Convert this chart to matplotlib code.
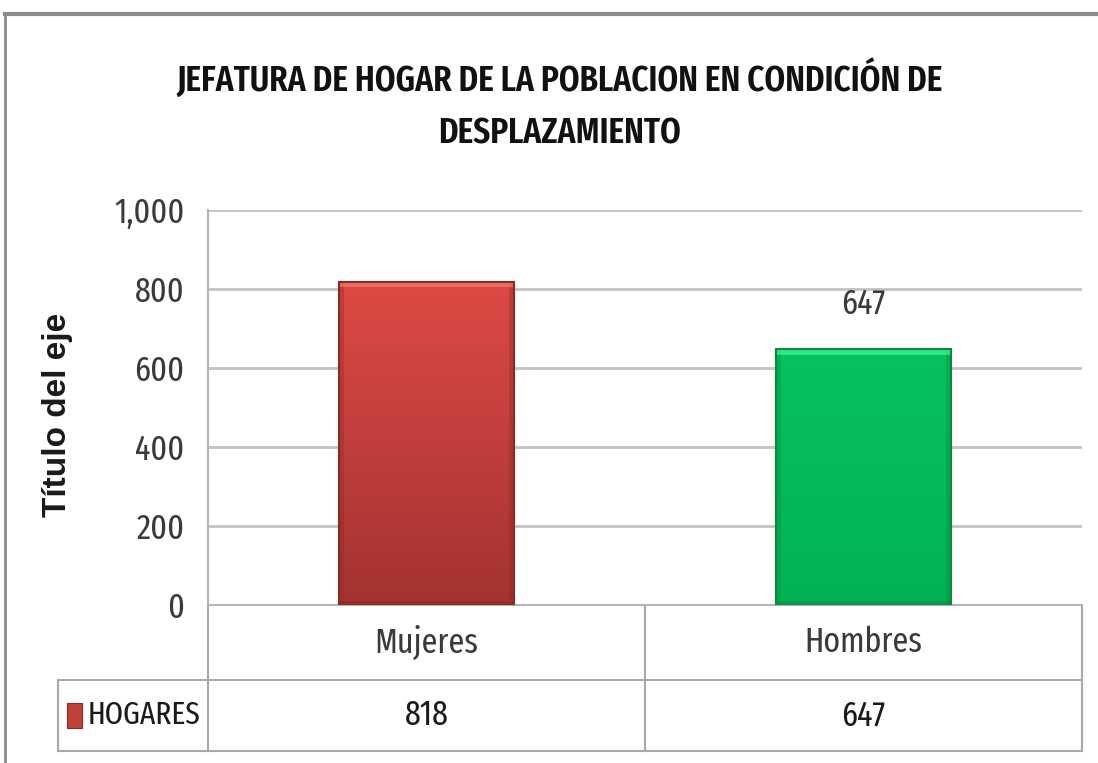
import matplotlib
matplotlib.use("Agg")
import matplotlib.pyplot as plt
import numpy as np
from matplotlib.lines import Line2D
from matplotlib.patches import Rectangle
import matplotlib.transforms as mtransforms
from matplotlib.ticker import FuncFormatter

COND = ['Fira Sans Extra Condensed', 'DejaVu Sans']

# data
title = "JEFATURA DE HOGAR DE LA POBLACION EN CONDICIÓN DE\nDESPLAZAMIENTO"
categories = ["Mujeres", "Hombres"]
series_name = "HOGARES"
values = [818, 647]
label_shown = [False, True]
y_label = "Título del eje"
y_ticks = [0, 200, 400, 600, 800, 1000]

fig = plt.figure(figsize=(10.98, 7.63), dpi=100)
W, H = 1098, 763
def fx(px): return px / W
def fy(py): return 1 - py / H

ax = fig.add_axes([fx(208), fy(605), fx(1082) - fx(208), fy(210) - fy(605)])
x = np.arange(len(categories))
ax.set_xlim(-0.5, len(categories) - 0.5)
ax.set_ylim(0, 1000)
ax.set_yticks(y_ticks)
ax.yaxis.set_major_formatter(FuncFormatter(lambda v, p: f"{int(v):,}"))
ax.grid(axis='y', color='#c3c3c3', linewidth=2)
ax.set_axisbelow(True)
for s in ['top', 'right']:
    ax.spines[s].set_visible(False)
ax.spines['left'].set_color('#b5b5b5')
ax.spines['left'].set_linewidth(1.5)
ax.spines['bottom'].set_color('#b5b5b5')
ax.spines['bottom'].set_linewidth(1.5)
ax.tick_params(axis='y', length=0, pad=17, labelsize=25, labelcolor='#3a3a3a')
ax.tick_params(axis='x', length=0, labelbottom=False)
for lab in ax.get_yticklabels():
    lab.set_fontfamily(COND)

ax.set_ylabel(y_label, fontsize=24, fontweight='bold', family=['Liberation Sans', 'DejaVu Sans'],
              color='#1a1a1a')
ax.yaxis.set_label_coords((73 - 208) / 874, (605 - 415) / 395)

# gradient bars
grads = [
    [(0.87, 0.29, 0.27), (0.64, 0.20, 0.19)],
    [(0.03, 0.76, 0.37), (0.01, 0.70, 0.33)],
]
edges = ['#8a2a27', '#0a8a40']
highlights = ['#f27d75', '#46f29a']
width = 0.4
bars = ax.bar(x, values, width=width, color='none', edgecolor='none', zorder=2)
for i, b in enumerate(bars):
    top, bot = grads[i]
    g = np.linspace(0, 1, 256)[:, None]
    img = np.zeros((256, 2, 3))
    for c in range(3):
        img[:, :, c] = top[c] + (bot[c] - top[c]) * g
    x0 = b.get_x(); bw = b.get_width(); h = b.get_height()
    im = ax.imshow(img, extent=[x0, x0 + bw, 0, h], origin='upper', aspect='auto', zorder=2)
    im.set_clip_path(Rectangle((x0, 0), bw, h, transform=ax.transData))
    # side shading, top bevel highlight and bottom shade
    for sx in (x0, x0 + bw - 0.012):
        ax.add_patch(Rectangle((sx, 0), 0.012, h, facecolor=edges[i],
                               edgecolor='none', alpha=0.35, zorder=3))
    ax.add_patch(Rectangle((x0, h - 14), bw, 14, facecolor=highlights[i],
                           edgecolor='none', alpha=0.7, zorder=3))
    ax.add_patch(Rectangle((x0, 0), bw, 10, facecolor=edges[i],
                           edgecolor='none', alpha=0.55, zorder=3))
    ax.add_patch(Rectangle((x0, 0), bw, h, facecolor='none',
                           edgecolor=edges[i], linewidth=1.5, zorder=3))
    if label_shown[i]:
        ax.annotate(f"{values[i]}", (x0 + bw / 2, h),
                    xytext=(0, 21), textcoords='offset points', ha='center', va='bottom',
                    fontsize=25, family=COND, color='#3a3a3a')
ax.set_xlim(-0.5, len(categories) - 0.5)

# data table below axes
trans = mtransforms.blended_transform_factory(ax.transData, ax.transAxes)
axes_h_px = 605 - 210
row_h = 75 / axes_h_px
row2_h = 71 / axes_h_px
left_edge = -0.5 - (208 - 58) / 437
tc = '#a8a8a8'
kw = dict(transform=trans, clip_on=False, color=tc, linewidth=1.5)
yb = -row_h - row2_h
ax.add_line(Line2D([left_edge, 1.5], [-row_h, -row_h], **kw))
ax.add_line(Line2D([left_edge, 1.5], [yb, yb], **kw))
ax.add_line(Line2D([-0.5, -0.5], [0, yb], **kw))
ax.add_line(Line2D([left_edge, left_edge], [-row_h, yb], **kw))
for xb in np.arange(len(categories)) + 0.5:
    ax.add_line(Line2D([xb, xb], [0, yb], **kw))
ymid2 = -row_h - row2_h / 2
for i, c in enumerate(categories):
    ax.text(i, -row_h / 2, c, transform=trans, ha='center', va='center',
            fontsize=25, family=COND, color='#3a3a3a')
    ax.text(i, ymid2, f"{values[i]}", transform=trans, ha='center', va='center',
            fontsize=25, family=COND, color='#1a1a1a')
# legend key
key_w = 15 / 437
key_h = 25 / axes_h_px
key_x = left_edge + 9 / 437
ax.add_patch(Rectangle((key_x, ymid2 - key_h / 2), key_w, key_h, transform=trans,
                       clip_on=False, facecolor='#c0403c', edgecolor='#8a2a27', lw=0.8))
ax.text(key_x + key_w + 6 / 437, ymid2, series_name, transform=trans, ha='left',
        va='center', fontsize=23, family=COND, color='#1a1a1a')

# title
title_lines = title.split("\n")
for k, line in enumerate(title_lines):
    fig.text(fx(560), fy(80 + 54 * k), line, ha='center', va='center', fontsize=26,
             fontweight=600, family=COND, color='#111111')

# outer chart frame
fig.add_artist(Line2D([fx(5), 1], [fy(14), fy(14)], color='#8c8c8c', linewidth=3,
                      transform=fig.transFigure))
fig.add_artist(Line2D([fx(5), fx(5)], [fy(14), 0], color='#8c8c8c', linewidth=2,
                      transform=fig.transFigure))

fig.savefig("out.png", dpi=100)
